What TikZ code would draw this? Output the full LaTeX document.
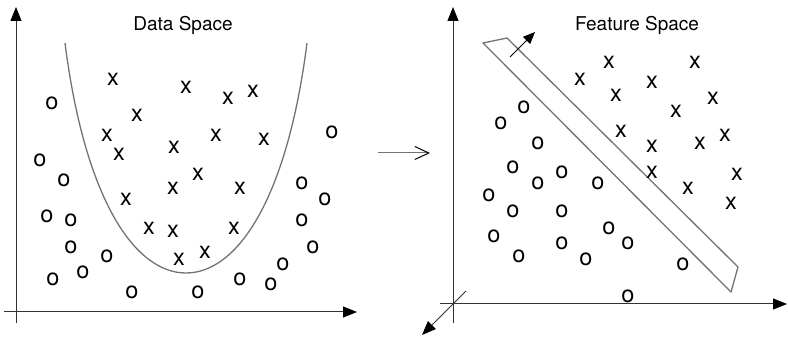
\documentclass[tikz,border=0pt]{standalone}
\usepackage{fontspec}
\setmainfont{TeX Gyre Heros}
\usepackage{tikz}
\usetikzlibrary{arrows.meta}

\begin{document}
\begin{tikzpicture}[x=1pt,y=-1pt]
\tikzstyle{mk}= [inner sep=0pt, font=\fontsize{23.5}{26}\selectfont]
\tikzstyle{ttl}= [inner sep=0pt, anchor=base, font=\fontsize{19}{22}\selectfont]
\tikzstyle{ax}= [line width=1pt, black!80, -{Triangle[length=14pt,width=11pt,black]}]
\tikzstyle{cut}= [line width=1.3pt, black!55]
\useasboundingbox (0,0) rectangle (788,339);
%1 data space
\node[ttl] (t1) at (183,31) {Data Space};
\coordinate (ly0) at (16,323);
\coordinate (ly1) at (16,7);
\coordinate (lx0) at (4,312);
\coordinate (lx1) at (357,312);
\draw[ax] (ly0) -- (ly1);
\draw[ax] (lx0) -- (lx1);
\coordinate (pa) at (65,43);
\coordinate (pb) at (186,273);
\coordinate (pc) at (307,43);
\draw[cut] (pa) .. controls (85,200) and (135,273) .. (pb) .. controls (237,273) and (287,200) .. (pc);
\node[mk] (dx1) at (113,79) {x};
\node[mk] (dx2) at (186,87) {x};
\node[mk] (dx3) at (228,98) {x};
\node[mk] (dx4) at (253,91) {x};
\node[mk] (dx5) at (137,115) {x};
\node[mk] (dx6) at (107,135) {x};
\node[mk] (dx7) at (216,135) {x};
\node[mk] (dx8) at (264,139) {x};
\node[mk] (dx9) at (174,147) {x};
\node[mk] (dx10) at (119,154) {x};
\node[mk] (dx11) at (198,174) {x};
\node[mk] (dx12) at (173,188) {x};
\node[mk] (dx13) at (240,188) {x};
\node[mk] (dx14) at (126,199) {x};
\node[mk] (dx15) at (149,228) {x};
\node[mk] (dx16) at (173,231) {x};
\node[mk] (dx17) at (234,228) {x};
\node[mk] (dx18) at (205,252) {x};
\node[mk] (dx19) at (179,259) {x};
\node[mk] (do1) at (52,103) {o};
\node[mk] (do2) at (40,160) {o};
\node[mk] (do3) at (332,132) {o};
\node[mk] (do4) at (64,180) {o};
\node[mk] (do5) at (302,183) {o};
\node[mk] (do6) at (325,199) {o};
\node[mk] (do7) at (47,216) {o};
\node[mk] (do8) at (71,220) {o};
\node[mk] (do9) at (302,220) {o};
\node[mk] (do10) at (71,247) {o};
\node[mk] (do11) at (107,256) {o};
\node[mk] (do12) at (313,247) {o};
\node[mk] (do13) at (283,264) {o};
\node[mk] (do14) at (83,272) {o};
\node[mk] (do15) at (53,279) {o};
\node[mk] (do16) at (240,279) {o};
\node[mk] (do17) at (271,284) {o};
\node[mk] (do18) at (132,292) {o};
\node[mk] (do19) at (198,292) {o};
%2 map
\coordinate (m0) at (378,153);
\coordinate (m1) at (430,153);
\draw[line width=1pt, black!55, -{Straight Barb[length=14pt,width=13pt,black]}] (m0) -- (m1);
%3 feature space
\node[ttl] (t2) at (637,31) {Feature Space};
\coordinate (ry0) at (453,323);
\coordinate (ry1) at (453,7);
\coordinate (rx0) at (440,304);
\coordinate (rx1) at (787,304);
\coordinate (rz0) at (466,291);
\coordinate (rz1) at (422,335);
\draw[ax] (ry0) -- (ry1);
\draw[ax] (rx0) -- (rx1);
\draw[ax] (rz0) -- (rz1);
\coordinate (ba) at (483,43);
\coordinate (bb) at (507,38);
\coordinate (bc) at (738,267);
\coordinate (bd) at (731,292);
\draw[cut, line join=round] (ba) -- (bb) -- (bc) -- (bd) -- cycle;
\coordinate (n0) at (510,57);
\coordinate (n1) at (535,32);
\draw[line width=1pt, -{Triangle[length=12pt,width=10pt]}] (n0) -- (n1);
\node[mk] (fx1) at (580,79) {x};
\node[mk] (fx2) at (609,62) {x};
\node[mk] (fx3) at (695,62) {x};
\node[mk] (fx4) at (652,82) {x};
\node[mk] (fx5) at (616,95) {x};
\node[mk] (fx6) at (713,98) {x};
\node[mk] (fx7) at (676,111) {x};
\node[mk] (fx8) at (621,131) {x};
\node[mk] (fx9) at (652,146) {x};
\node[mk] (fx10) at (700,143) {x};
\node[mk] (fx11) at (725,135) {x};
\node[mk] (fx12) at (652,172) {x};
\node[mk] (fx13) at (737,174) {x};
\node[mk] (fx14) at (688,188) {x};
\node[mk] (fx15) at (731,203) {x};
\node[mk] (fo1) at (524,107) {o};
\node[mk] (fo2) at (501,123) {o};
\node[mk] (fo3) at (538,143) {o};
\node[mk] (fo4) at (513,167) {o};
\node[mk] (fo5) at (562,172) {o};
\node[mk] (fo6) at (538,183) {o};
\node[mk] (fo7) at (598,183) {o};
\node[mk] (fo8) at (489,195) {o};
\node[mk] (fo9) at (513,211) {o};
\node[mk] (fo10) at (562,211) {o};
\node[mk] (fo11) at (609,228) {o};
\node[mk] (fo12) at (494,236) {o};
\node[mk] (fo13) at (562,243) {o};
\node[mk] (fo14) at (628,243) {o};
\node[mk] (fo15) at (519,256) {o};
\node[mk] (fo16) at (586,259) {o};
\node[mk] (fo17) at (683,264) {o};
\node[mk] (fo18) at (628,296) {o};
\end{tikzpicture}
\end{document}
